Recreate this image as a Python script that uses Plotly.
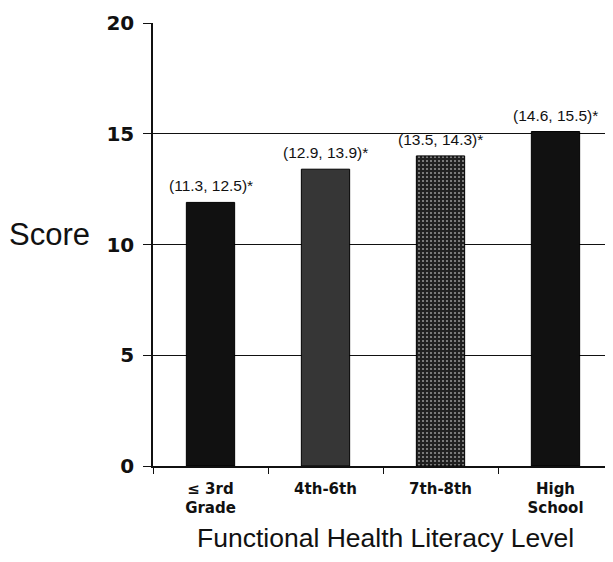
import plotly.graph_objects as go

categories = ["≤ 3rd<br>Grade", "4th-6th", "7th-8th", "High<br>School"]
scores = [11.9, 13.4, 14.0, 15.1]
ci_low = [11.3, 12.9, 13.5, 14.6]
ci_high = [12.5, 13.9, 14.3, 15.5]
y_ticks = [0, 5, 10, 15, 20]

labels = [f"({lo}, {hi})*" for lo, hi in zip(ci_low, ci_high)]

fig = go.Figure()
fig.add_trace(go.Bar(
    x=categories, y=scores, width=0.42,
    marker=dict(
        color=["#111111", "#363636", "#202020", "#111111"],
        line=dict(color="#000000", width=1),
        pattern=dict(shape=["", "", ".", ""], fgcolor="#8a8a8a", fillmode="overlay",
                     size=4, solidity=0.22),
    ),
))

for cat, s, lab in zip(categories, scores, labels):
    fig.add_annotation(x=cat, y=s, text=lab, showarrow=False, yanchor="bottom",
                       yshift=6, font=dict(family="Arial, Liberation Sans", size=15.5,
                                           color="#111111"))

fig.update_layout(
    width=605, height=554, showlegend=False,
    margin=dict(l=145, r=0, t=15, b=96),
    plot_bgcolor="white", paper_bgcolor="white",
    xaxis=dict(
        range=[-0.5, 3.5], showline=True, linecolor="#111111", linewidth=1.5,
        ticks="outside", tickson="boundaries", ticklen=6, tickcolor="#111111",
        ticklabelstandoff=8,
        tickfont=dict(family="DejaVu Sans", size=15, color="#111111", weight="bold"),
    ),
    yaxis=dict(
        range=[0, 20], tickvals=y_ticks, showline=True, linecolor="#111111", linewidth=1.5,
        ticks="outside", ticklen=8, tickcolor="#111111", ticklabelstandoff=5,
        showgrid=True, gridcolor="#111111", gridwidth=1.2, zeroline=False,
        tickfont=dict(family="DejaVu Sans", size=20, color="#111111", weight="bold"),
    ),
)
fig.add_annotation(text="Score", xref="paper", yref="y", x=-0.1326, y=10.45,
                   xanchor="right", yanchor="middle", showarrow=False,
                   font=dict(family="Arial, Liberation Sans", size=31, color="#111111"))
fig.add_annotation(text="Functional Health Literacy Level", xref="paper", yref="paper",
                   x=0.5065, y=-0.163, xanchor="center", yanchor="middle", showarrow=False,
                   font=dict(family="Arial, Liberation Sans", size=26.5, color="#111111"))

fig.write_html("out.html")
